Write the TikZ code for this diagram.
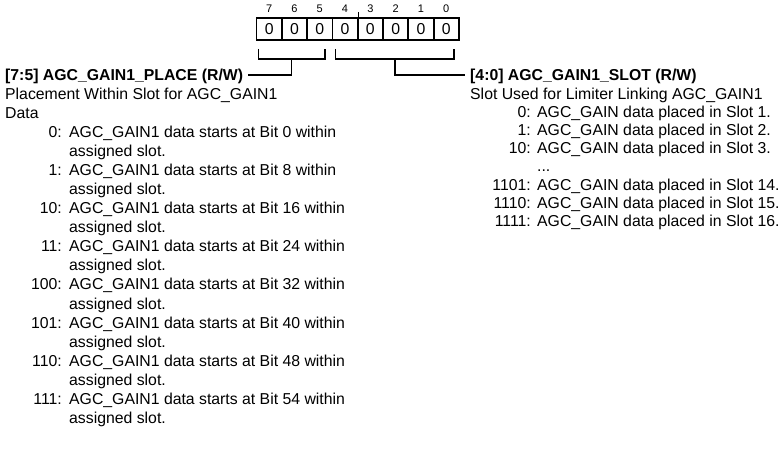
\documentclass[tikz,border=0pt]{standalone}
\usepackage{fontspec}
\setmainfont{Liberation Sans}
\begin{document}
\begin{tikzpicture}[x=1pt,y=-1pt,
  txt/.style={anchor=base west, inner sep=0pt, font=\fontsize{15.8}{18}\selectfont},
  num/.style={anchor=base east, inner sep=0pt, font=\fontsize{15.8}{18}\selectfont},
  bitbox/.style={draw, line width=1.8pt, minimum width=25.3pt, minimum height=22pt, inner sep=0pt, font=\fontsize{15.8}{18}\selectfont},
  bitnum/.style={anchor=base, inner sep=0pt, font=\fontsize{11}{13}\selectfont},
  link/.style={line width=1.7pt}]
\useasboundingbox (0,0) rectangle (782,449);
% register boxes
\foreach \b [count=\i from 0] in {7,6,5,4,3,2,1,0} {
  \node[bitbox] (box\b) at ({256.5+25.3*\i+12.65},29) {0};
  \node[bitnum] (bn\b) at ({256.5+25.3*\i+12.65},12.7) {\b};
}
\draw[line width=1.3pt] (box4.north east) -- ++(0,-5);
% titles
\node[txt] (t1) at (5,81) {\textbf{[7:5] AGC\_GAIN1\_PLACE (R/W)}};
\node[txt] (t2) at (470,81) {\textbf{[4:0] AGC\_GAIN1\_SLOT (R/W)}};
% brackets
\coordinate (pl1) at (258.5,49);
\coordinate (pl2) at (325,49);
\coordinate (pls) at (291.5,59);
\coordinate (pr1) at (335.5,49);
\coordinate (pr2) at (454,49);
\coordinate (prs) at (395,59);
\draw[link] (pl1) -- (pl1 |- pls) -- (pl2 |- pls) -- (pl2);
\draw[link] (pr1) -- (pr1 |- prs) -- (pr2 |- prs) -- (pr2);
\coordinate (tl) at ([xshift=5pt]t1.east |- 0,75);
\coordinate (tr) at ([xshift=-5pt]t2.west |- 0,75);
\draw[link] (pls) |- (tl);
\draw[link] (prs) |- (tr);
% left column
\node[txt] (p1) at (5,100) {Placement Within Slot for AGC\_GAIN1};
\node[txt] (p2) at (5,119) {Data};
\foreach \v/\bit [count=\k from 0] in {0/0,1/8,10/16,11/24,100/32,101/40,110/48,111/54} {
  \node[num] (ln\k) at (62,{138+38*\k}) {\v:};
  \node[txt] (lt\k) at (69,{138+38*\k}) {AGC\_GAIN1 data starts at Bit \bit\ within};
  \node[txt] (la\k) at (69,{157+38*\k}) {assigned slot.};
}
% right column
\node[txt] (s1) at (470,99.2) {Slot Used for Limiter Linking AGC\_GAIN1};
\foreach \v/\s [count=\k from 0] in {0/1,1/2,10/3} {
  \node[num] (rn\k) at (531,{117.4+18.2*\k}) {\v:};
  \node[txt] (rt\k) at (537,{117.4+18.2*\k}) {AGC\_GAIN data placed in Slot \s.};
}
\node[txt] (dots) at (537,172) {...};
\foreach \v/\s [count=\k from 4] in {1101/14,1110/15,1111/16} {
  \node[num] (rn\k) at (531,{117.4+18.2*\k}) {\v:};
  \node[txt] (rt\k) at (537,{117.4+18.2*\k}) {AGC\_GAIN data placed in Slot \s.};
}
\end{tikzpicture}
\end{document}
